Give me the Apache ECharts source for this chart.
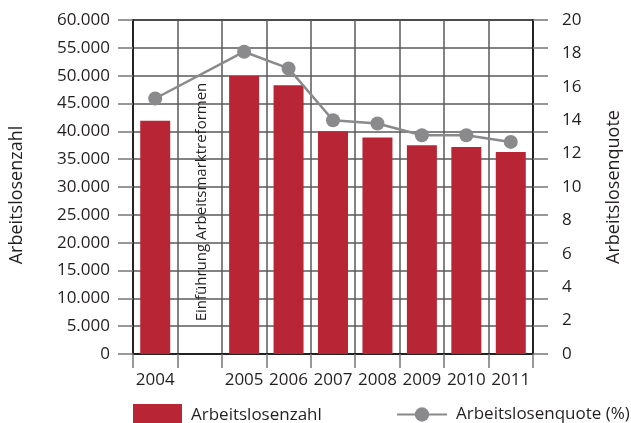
<!DOCTYPE html>
<html>
<head>
<meta charset="utf-8">
<script src="https://cdn.jsdelivr.net/npm/echarts@6/dist/echarts.min.js"></script>
<style>
  html, body { margin: 0; padding: 0; background: #fff; }
  #chart { width: 631px; height: 423px; }
</style>
</head>
<body>
<div id="chart"></div>
<script>
// Years, with an empty slot marking the introduction of the labour market reforms
const years = ['2004', '', '2005', '2006', '2007', '2008', '2009', '2010', '2011'];
// Number of unemployed persons
const unemployed = [41900, null, 50000, 48300, 40000, 38900, 37500, 37200, 36300];
// Unemployment rate in percent
const rate = [15.3, null, 18.1, 17.1, 14.0, 13.8, 13.1, 13.1, 12.7];
const reformNote = 'Einführung Arbeitsmarktreformen';
const reformSlot = 1;

const FONT = 'Open Sans';
const TXT = '#231f20';
const RED = '#b82636';
const GREY = '#8a8a8c';

const chart = echarts.init(document.getElementById('chart'));

const fmtThousands = v => v === 0 ? '0' : (v / 1000).toFixed(0) + '.000';

chart.setOption({
  animation: false,
  textStyle: { fontFamily: FONT },
  grid: {
    left: 126, right: 90, top: 20, bottom: 69,
    show: true, borderColor: '#222', borderWidth: 2, backgroundColor: 'transparent'
  },
  legend: [
    {
      data: [{ name: 'Arbeitslosenzahl', icon: 'rect' }],
      left: 128, top: 399,
      itemWidth: 49, itemHeight: 22, itemGap: 0,
      textStyle: { fontFamily: FONT, fontSize: 17, color: TXT, padding: [0, 0, 0, 4] }
    },
    {
      data: ['Arbeitslosenquote (%)'],
      left: 391, top: 401,
      itemWidth: 50, itemHeight: 18, itemGap: 0,
      textStyle: { fontFamily: FONT, fontSize: 17, color: TXT, padding: [0, 0, 0, 4] }
    }
  ],
  xAxis: {
    type: 'category',
    data: years,
    boundaryGap: true,
    axisLine: { show: true, lineStyle: { color: '#222', width: 2 } },
    axisTick: { show: true, length: 14, lineStyle: { color: '#777', width: 1.5 } },
    splitLine: { show: true, lineStyle: { color: '#5a5a5a', width: 1.5 } },
    axisLabel: { fontFamily: FONT, fontSize: 17, color: TXT, margin: 18, interval: 0 }
  },
  yAxis: [
    {
      type: 'value',
      min: 0, max: 60000, interval: 5000,
      name: 'Arbeitslosenzahl',
      nameLocation: 'middle', nameGap: 107, nameRotate: 90,
      nameTextStyle: { fontFamily: FONT, fontSize: 18, color: TXT, padding: [0, 0, 0, -16] },
      axisLine: { show: true, lineStyle: { color: '#222', width: 2 } },
      axisTick: { show: true, length: 15, lineStyle: { color: '#777', width: 1.5 } },
      splitLine: { show: true, lineStyle: { color: '#5a5a5a', width: 1.5 } },
      axisLabel: { fontFamily: FONT, fontSize: 17, color: TXT, margin: 23, formatter: fmtThousands }
    },
    {
      type: 'value',
      position: 'right',
      min: 0, max: 20, interval: 2,
      name: 'Arbeitslosenquote',
      nameLocation: 'middle', nameGap: 72, nameRotate: 90,
      nameTextStyle: { fontFamily: FONT, fontSize: 18, color: TXT },
      axisLine: { show: true, lineStyle: { color: '#222', width: 2 } },
      axisTick: { show: false },
      splitLine: { show: false },
      axisLabel: { fontFamily: FONT, fontSize: 17, color: TXT, margin: 29 }
    },
    {
      // right-hand extension of the horizontal grid lines
      type: 'value',
      position: 'right',
      min: 0, max: 60000, interval: 5000,
      axisLine: { show: false },
      axisTick: { show: true, length: 15, lineStyle: { color: '#777', width: 1.5 } },
      splitLine: { show: false },
      axisLabel: { show: false }
    }
  ],
  series: [
    {
      name: 'Arbeitslosenzahl',
      type: 'bar',
      yAxisIndex: 0,
      data: unemployed,
      barWidth: 30,
      itemStyle: { color: RED },
      z: 2
    },
    {
      name: 'Arbeitslosenquote (%)',
      type: 'line',
      yAxisIndex: 1,
      data: rate,
      connectNulls: true,
      symbol: 'circle',
      symbolSize: 14,
      lineStyle: { color: GREY, width: 2.5 },
      itemStyle: { color: GREY },
      z: 3
    }
  ]
});

// Vertical note inside the empty reform slot
const px = chart.convertToPixel({ xAxisIndex: 0 }, reformSlot);
const py = chart.convertToPixel({ yAxisIndex: 0 }, 27300);
chart.setOption({
  graphic: [{
    type: 'text',
    x: px + 2, y: py,
    rotation: Math.PI / 2,
    style: {
      text: reformNote,
      fontFamily: FONT, fontSize: 15, fill: TXT,
      align: 'center', verticalAlign: 'middle'
    },
    z: 10
  }]
});
</script>
</body>
</html>
